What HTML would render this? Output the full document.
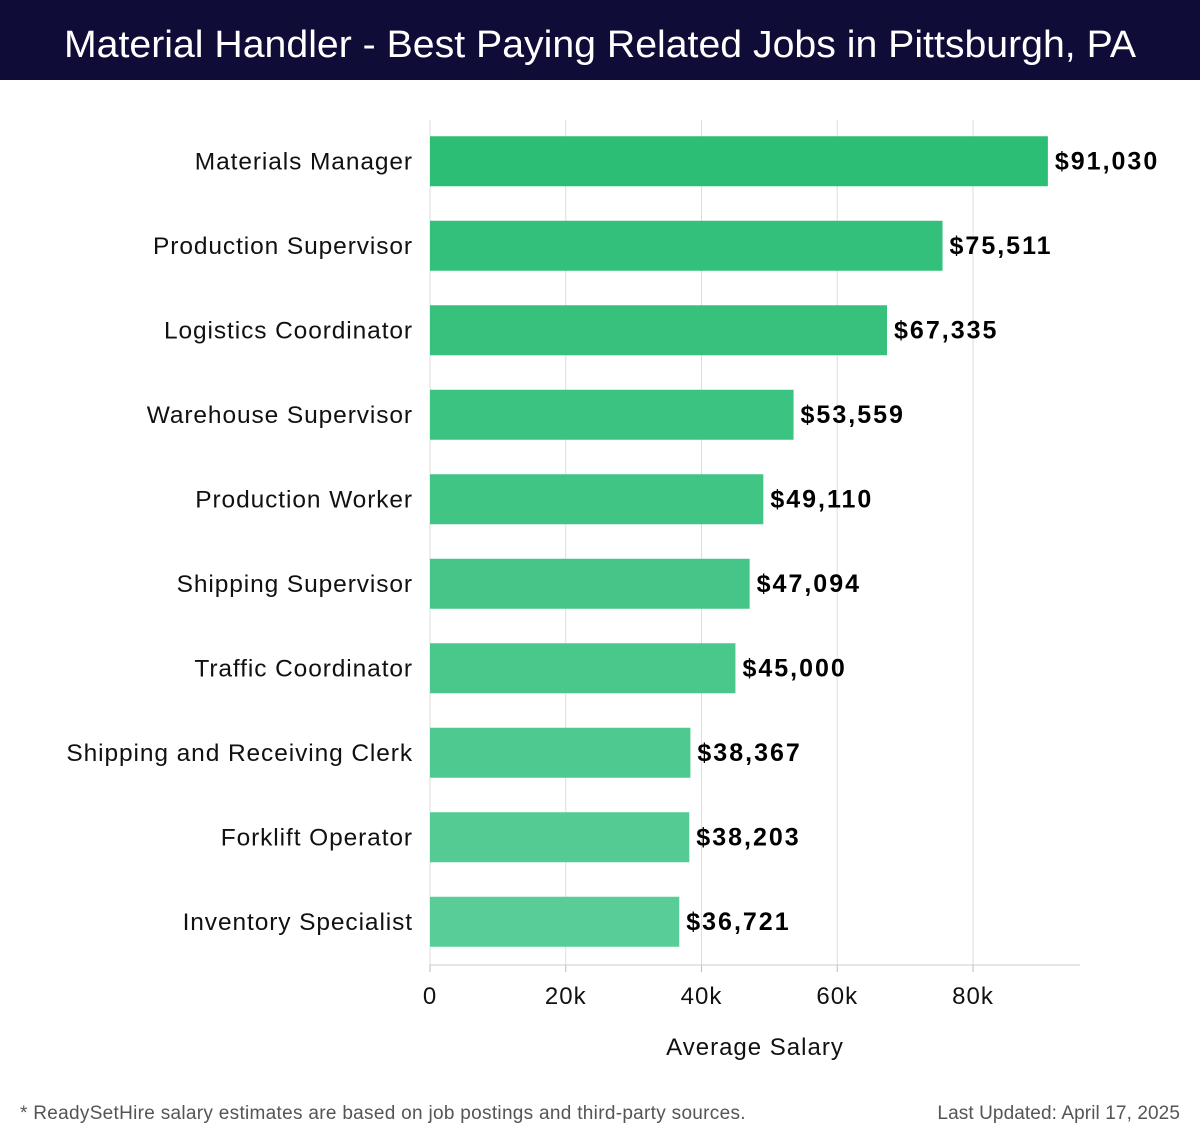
<!DOCTYPE html>
<html><head><meta charset="utf-8"><style>
html,body{margin:0;padding:0;background:#fff;width:1200px;height:1140px;overflow:hidden}
svg{display:block;font-family:"Liberation Sans","DejaVu Sans",sans-serif}
</style></head><body>
<svg id="chart" width="1200" height="1140" viewBox="0 0 1200 1140" xmlns="http://www.w3.org/2000/svg">
<rect x="0" y="0" width="1200" height="80" fill="#0f0c38"/>
<text x="600" y="57" text-anchor="middle" fill="#fff" font-size="38" font-weight="300" textLength="1072" lengthAdjust="spacingAndGlyphs">Material Handler - Best Paying Related Jobs in Pittsburgh, PA</text>
<g id="grid"></g><g id="bars"></g><g id="axis"></g>
<text x="755" y="1055" text-anchor="middle" font-size="24" letter-spacing="1" fill="#111">Average Salary</text>
<text x="20" y="1119" font-size="19" letter-spacing="0.3" fill="#555">* ReadySetHire salary estimates are based on job postings and third-party sources.</text>
<text x="1180" y="1119" text-anchor="end" font-size="19" letter-spacing="0.1" fill="#555">Last Updated: April 17, 2025</text>
</svg>
<script>
const categories=["Materials Manager","Production Supervisor","Logistics Coordinator","Warehouse Supervisor","Production Worker","Shipping Supervisor","Traffic Coordinator","Shipping and Receiving Clerk","Forklift Operator","Inventory Specialist"];
const values=[91030,75511,67335,53559,49110,47094,45000,38367,38203,36721];
const valueLabels=["$91,030","$75,511","$67,335","$53,559","$49,110","$47,094","$45,000","$38,367","$38,203","$36,721"];
const ticks=[0,20000,40000,60000,80000];
const tickLabels=["0","20k","40k","60k","80k"];
const NS="http://www.w3.org/2000/svg";
const x0=430,xs=543/80000,plotTop=119,rowH=84.5,barH=50,plotBottom=965;
const xPos=v=>x0+v*xs;
const yPos=i=>plotTop+i*rowH+(rowH-barH)/2;
function mk(tag,attrs,parent,txt){const e=document.createElementNS(NS,tag);for(const k in attrs)e.setAttribute(k,attrs[k]);if(txt!==undefined)e.textContent=txt;parent.appendChild(e);return e;}
const grid=document.getElementById('grid'),bars=document.getElementById('bars'),axis=document.getElementById('axis');
ticks.forEach((t,i)=>{
 const g=mk('line',{x1:xPos(t),x2:xPos(t),y1:120,y2:plotBottom,stroke:'#dddddd','stroke-width':1},grid);
 
 
 const tk=mk('line',{x1:xPos(t),x2:xPos(t),y1:plotBottom,y2:plotBottom+7,stroke:'#bbb','stroke-width':1},axis);
 
 
 const tl=mk('text',{x:xPos(t),y:1004,'text-anchor':'middle','font-size':24,'letter-spacing':1,fill:'#111'},axis,tickLabels[i]);
 
 
});
const al=mk('line',{x1:x0,x2:1080,y1:plotBottom,y2:plotBottom,stroke:'#ccc','stroke-width':1},axis);


const c0=[45,190,118],c1=[88,205,151];
categories.forEach((c,i)=>{
 const f=i/(categories.length-1);
 const col=`rgb(${c0.map((a,k)=>Math.round(a+(c1[k]-a)*f)).join(',')})`;
 const r=mk('rect',{x:x0,y:yPos(i),width:xPos(values[i])-x0,height:barH,fill:col},bars);
 
 
 const l=mk('text',{x:413,y:yPos(i)+barH/2+8,'text-anchor':'end','font-size':24.5,'letter-spacing':0.9,fill:'#111'},bars,c);
 
 
 const v=mk('text',{x:xPos(values[i])+7,y:yPos(i)+barH/2+8,'font-size':25,'letter-spacing':2,'font-weight':'bold',fill:'#000'},bars,valueLabels[i]);
 
 
});
</script>
</body></html>
